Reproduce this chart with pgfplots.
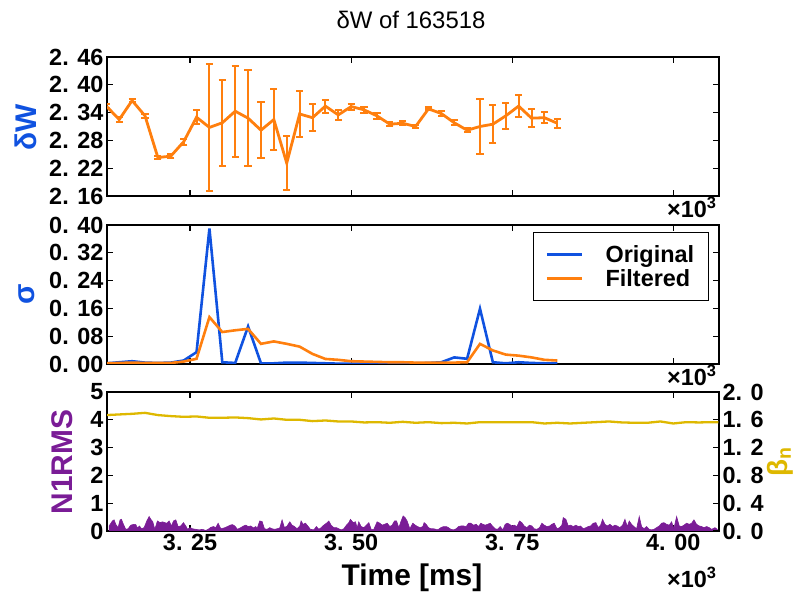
\documentclass[border=0pt]{standalone}
\usepackage{fontspec}
\setmainfont{Liberation Sans}
\usepackage{pgfplots}
\usepackage{pgfplotstable}
\pgfplotsset{compat=1.18}

\definecolor{cblue}{RGB}{16,82,224}
\definecolor{corange}{RGB}{255,127,14}
\definecolor{cpurple}{RGB}{122,28,150}
\definecolor{cgold}{RGB}{222,184,0}

\newcommand{\tickfont}{\bfseries\fontsize{23.5}{23.5}\selectfont}
\newcommand{\labfont}{\bfseries\fontsize{30}{30}\selectfont}

% delta W with its uncertainty
\pgfplotstableread{
t dw err
3.12 2.354 0.004
3.14 2.325 0.005
3.16 2.366 0.004
3.18 2.333 0.005
3.20 2.243 0.004
3.22 2.246 0.004
3.24 2.277 0.007
3.26 2.330 0.015
3.28 2.308 0.137
3.30 2.318 0.093
3.32 2.343 0.098
3.34 2.328 0.103
3.36 2.302 0.060
3.38 2.325 0.065
3.40 2.231 0.058
3.42 2.337 0.050
3.44 2.329 0.029
3.46 2.354 0.014
3.48 2.335 0.011
3.50 2.353 0.0065
3.52 2.346 0.0065
3.54 2.333 0.006
3.56 2.315 0.005
3.58 2.317 0.004
3.60 2.310 0.004
3.62 2.348 0.003
3.64 2.338 0.005
3.66 2.318 0.005
3.68 2.302 0.004
3.70 2.310 0.059
3.72 2.315 0.041
3.74 2.333 0.028
3.76 2.354 0.024
3.78 2.328 0.019
3.80 2.329 0.0125
3.82 2.317 0.010
}\dwdata

% sigma, raw and filtered
\pgfplotstableread{
t orig filt
3.12 0.002 0.002
3.14 0.005 0.003
3.16 0.008 0.004
3.18 0.004 0.003
3.20 0.003 0.003
3.22 0.004 0.003
3.24 0.010 0.007
3.26 0.034 0.015
3.28 0.390 0.135
3.30 0.005 0.092
3.32 0.003 0.097
3.34 0.108 0.101
3.36 0.002 0.058
3.38 0.002 0.065
3.40 0.004 0.058
3.42 0.004 0.050
3.44 0.003 0.029
3.46 0.002 0.0145
3.48 0.001 0.012
3.50 0.001 0.008
3.52 0.001 0.007
3.54 0.001 0.006
3.56 0.001 0.005
3.58 0.001 0.005
3.60 0.002 0.004
3.62 0.003 0.004
3.64 0.005 0.004
3.66 0.019 0.004
3.68 0.015 0.005
3.70 0.159 0.058
3.72 0.005 0.039
3.74 0.002 0.027
3.76 0.005 0.024
3.78 0.003 0.019
3.80 0.002 0.012
3.82 0.002 0.010
}\sigdata

% normalised beta
\pgfplotstableread{
t beta
3.12 1.668
3.14 1.677
3.16 1.686
3.18 1.700
3.20 1.668
3.22 1.653
3.24 1.643
3.26 1.648
3.28 1.629
3.30 1.629
3.32 1.634
3.34 1.624
3.36 1.605
3.38 1.619
3.40 1.600
3.42 1.600
3.44 1.581
3.46 1.590
3.48 1.576
3.50 1.576
3.52 1.562
3.54 1.566
3.56 1.557
3.58 1.571
3.60 1.557
3.62 1.566
3.64 1.552
3.66 1.557
3.68 1.547
3.70 1.566
3.72 1.566
3.74 1.566
3.76 1.566
3.78 1.566
3.80 1.547
3.82 1.557
3.84 1.547
3.86 1.557
3.88 1.566
3.90 1.576
3.92 1.562
3.94 1.557
3.96 1.557
3.98 1.576
4.00 1.547
4.02 1.566
4.04 1.562
4.06 1.566
4.07 1.566
}\betadata

% n=1 RMS amplitude
\pgfplotstableread{
t n1
3.1243 0.18
3.1294 0.36
3.1320 0.40
3.1346 0.24
3.1382 0.12
3.1413 0.40
3.1434 0.42
3.1465 0.24
3.1501 0.06
3.1538 0.08
3.1579 0.21
3.1631 0.24
3.1657 0.23
3.1683 0.11
3.1714 0.18
3.1745 0.08
3.1786 0.12
3.1828 0.36
3.1864 0.52
3.1890 0.42
3.1921 0.33
3.1952 0.06
3.1993 0.36
3.2035 0.30
3.2071 0.33
3.2107 0.30
3.2138 0.28
3.2174 0.36
3.2211 0.18
3.2242 0.36
3.2278 0.40
3.2314 0.16
3.2355 0.18
3.2397 0.30
3.2433 0.18
3.2459 0.06
3.2500 0.12
3.2537 0.08
3.2588 0.06
3.2640 0.04
3.2692 0.06
3.2744 0.02
3.2780 0.06
3.2821 0.13
3.2863 0.16
3.2899 0.12
3.2935 0.28
3.2977 0.08
3.3028 0.11
3.3080 0.16
3.3122 0.21
3.3158 0.23
3.3194 0.18
3.3235 0.06
3.3287 0.12
3.3329 0.18
3.3365 0.21
3.3401 0.16
3.3442 0.18
3.3484 0.11
3.3520 0.16
3.3540 0.08
3.3581 0.36
3.3618 0.34
3.3654 0.08
3.3695 0.06
3.3737 0.12
3.3773 0.08
3.3809 0.06
3.3851 0.08
3.3892 0.11
3.3928 0.40
3.3964 0.12
3.4006 0.18
3.4047 0.33
3.4083 0.21
3.4120 0.16
3.4161 0.08
3.4203 0.18
3.4223 0.36
3.4254 0.24
3.4291 0.28
3.4327 0.18
3.4368 0.06
3.4420 0.04
3.4461 0.16
3.4498 0.06
3.4534 0.12
3.4575 0.21
3.4617 0.28
3.4653 0.36
3.4689 0.21
3.4730 0.12
3.4772 0.12
3.4808 0.08
3.4844 0.04
3.4886 0.08
3.4927 0.21
3.4963 0.30
3.4989 0.42
3.5031 0.30
3.5067 0.33
3.5093 0.12
3.5119 0.33
3.5155 0.16
3.5196 0.12
3.5238 0.21
3.5274 0.30
3.5311 0.06
3.5352 0.06
3.5403 0.33
3.5445 0.28
3.5481 0.21
3.5517 0.24
3.5559 0.28
3.5600 0.16
3.5636 0.21
3.5673 0.36
3.5704 0.36
3.5740 0.12
3.5776 0.36
3.5807 0.54
3.5838 0.48
3.5869 0.36
3.5911 0.08
3.5957 0.28
3.5994 0.21
3.6030 0.16
3.6071 0.12
3.6113 0.16
3.6133 0.30
3.6164 0.24
3.6201 0.12
3.6237 0.08
3.6278 0.08
3.6320 0.06
3.6356 0.06
3.6392 0.12
3.6434 0.16
3.6475 0.16
3.6511 0.12
3.6547 0.06
3.6589 0.04
3.6630 0.08
3.6667 0.16
3.6703 0.18
3.6744 0.18
3.6786 0.16
3.6822 0.28
3.6858 0.28
3.6899 0.21
3.6941 0.24
3.6977 0.16
3.7013 0.28
3.7044 0.24
3.7081 0.21
3.7117 0.24
3.7158 0.28
3.7200 0.16
3.7236 0.08
3.7272 0.06
3.7313 0.16
3.7355 0.04
3.7391 0.24
3.7427 0.28
3.7458 0.24
3.7495 0.18
3.7531 0.21
3.7572 0.16
3.7614 0.36
3.7650 0.30
3.7686 0.18
3.7728 0.12
3.7769 0.21
3.7805 0.18
3.7841 0.08
3.7883 0.06
3.7924 0.12
3.7961 0.28
3.7997 0.21
3.8038 0.16
3.8080 0.18
3.8116 0.24
3.8152 0.28
3.8194 0.08
3.8235 0.12
3.8271 0.21
3.8292 0.48
3.8333 0.42
3.8370 0.18
3.8406 0.21
3.8447 0.16
3.8489 0.21
3.8525 0.16
3.8561 0.18
3.8603 0.08
3.8644 0.12
3.8680 0.16
3.8716 0.18
3.8758 0.28
3.8799 0.30
3.8835 0.12
3.8872 0.21
3.8903 0.42
3.8939 0.24
3.8975 0.18
3.9017 0.24
3.9058 0.16
3.9094 0.21
3.9130 0.18
3.9172 0.12
3.9213 0.21
3.9250 0.42
3.9286 0.16
3.9317 0.36
3.9353 0.24
3.9389 0.16
3.9431 0.08
3.9472 0.52
3.9508 0.16
3.9545 0.08
3.9586 0.16
3.9627 0.06
3.9664 0.04
3.9700 0.06
3.9741 0.12
3.9783 0.18
3.9819 0.28
3.9855 0.30
3.9896 0.24
3.9938 0.21
3.9974 0.33
4.0010 0.08
4.0052 0.52
4.0093 0.18
4.0130 0.16
4.0166 0.21
4.0207 0.28
4.0249 0.24
4.0285 0.28
4.0321 0.40
4.0362 0.24
4.0404 0.18
4.0440 0.16
4.0476 0.12
4.0518 0.16
4.0559 0.12
4.0595 0.06
4.0647 0.12
4.0683 0.06
}\nonedata

\pgfplotsset{
  panel/.style={
    anchor=south west,
    scale only axis,
    width=612bp, height=139bp,
    xmin=3.121, xmax=4.071,
    xtick={3.25,3.5,3.75,4.0},
    tick align=inside,
    major tick length=6bp,
    axis line style={line width=2.6bp},
    every tick/.style={black, line width=1.3bp},
    ticklabel style={font=\tickfont},
  },
}

\begin{document}
\begin{tikzpicture}
\useasboundingbox (0,0) rectangle (798bp,594bp);

% top panel: delta W
\begin{axis}[panel, at={(107bp,398bp)},
    ymin=2.16, ymax=2.46,
    ytick={2.16,2.22,2.28,2.34,2.40,2.46},
    yticklabels={2. 16,2. 22,2. 28,2. 34,2. 40,2. 46},
    xticklabels={}]
  \addplot[corange, line width=2.8bp, mark=none,
    error bars/.cd, y dir=both, y explicit,
    error bar style={line width=2bp, corange},
    error mark options={rotate=90, line width=2bp, mark size=3.6bp, corange}]
    table[x=t, y=dw, y error=err] {\dwdata};
\end{axis}

% middle panel: sigma
\begin{axis}[panel, at={(107bp,230bp)},
    ymin=0, ymax=0.40,
    ytick={0,0.08,0.16,0.24,0.32,0.40},
    yticklabels={0. 00,0. 08,0. 16,0. 24,0. 32,0. 40},
    xticklabels={},
    legend style={at={(rel axis cs:0.984,0.95)}, anchor=north east,
      draw=black, line width=1.2bp, fill=white,
      font=\bfseries\fontsize{23.5}{23.5}\selectfont,
      inner xsep=12bp, inner ysep=10bp,
      nodes={inner sep=2.5bp},
      row sep=1bp,
      /tikz/every odd column/.append style={column sep=20bp}},
    legend cell align=left,
    legend image code/.code={\draw[#1, line width=2.6bp] (0bp,0bp) -- (35bp,0bp);}]
  \addplot[cblue, line width=2.6bp, mark=none] table[x=t, y=orig] {\sigdata};
  \addlegendentry{Original}
  \addplot[corange, line width=2.6bp, mark=none] table[x=t, y=filt] {\sigdata};
  \addlegendentry{Filtered}
\end{axis}

% bottom panel: n=1 RMS (left) and beta_n (right)
\begin{axis}[panel, at={(107bp,63bp)},
    ymin=0, ymax=5,
    ytick={0,1,2,3,4,5},
    yticklabels={0,1,2,3,4,5},
    ytick pos=left,
    xticklabels={3. 25,3. 50,3. 75,4. 00}]
  \addplot[draw=cpurple, fill=cpurple, line width=0.6bp, mark=none]
    table[x=t, y=n1] {\nonedata} \closedcycle;
\end{axis}
\begin{axis}[panel, at={(107bp,63bp)},
    ymin=0, ymax=2.0,
    hide x axis,
    axis y line*=right,
    ytick={0,0.4,0.8,1.2,1.6,2.0},
    yticklabels={0. 0,0. 4,0. 8,1. 2,1. 6,2. 0},
    ytick pos=right]
  \addplot[cgold, line width=2.3bp, mark=none] table[x=t, y=beta] {\betadata};
\end{axis}

% titles and labels
\node[font=\fontsize{24}{24}\selectfont] at (411bp,574bp) {δW of 163518};
\node[rotate=90, text=cblue, font=\labfont] at (26bp,467bp) {δW};
\node[rotate=90, text=cblue, font=\labfont] at (27bp,300bp) {σ};
\node[rotate=90, text=cpurple, font=\labfont] at (62bp,132bp) {N1RMS};
\node[rotate=90, text=cgold, font=\bfseries\fontsize{28}{28}\selectfont] at (780bp,132bp) {β\textsubscript{n}};
\node[font=\labfont] at (412bp,16bp) {Time [ms]};
\node[anchor=east, font=\tickfont] at (720bp,387bp) {×10\textsuperscript{3}};
\node[anchor=east, font=\tickfont] at (720bp,219bp) {×10\textsuperscript{3}};
\node[anchor=east, font=\tickfont] at (720bp,17bp) {×10\textsuperscript{3}};
\end{tikzpicture}
\end{document}
